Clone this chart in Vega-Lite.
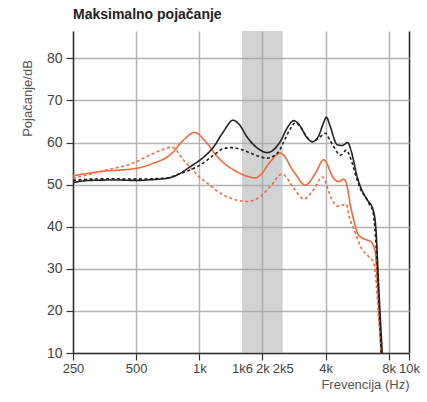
{
  "$schema": "https://vega.github.io/schema/vega-lite/v6.json",
  "width": 336,
  "height": 322,
  "autosize": "none",
  "padding": {"left": 73, "top": 31, "right": 18, "bottom": 49},
  "background": "white",
  "title": {"text": "Maksimalno pojačanje", "anchor": "start", "frame": "group", "fontSize": 14, "fontWeight": "bold", "font": "Liberation Sans", "color": "#222", "offset": 9},
  "config": {"view": {"stroke": null}, "font": "Liberation Sans Narrow, Liberation Sans, sans-serif"},
  "datasets": {
    "band": [{"a": 1600, "b": 2500}],
    "curves": [
      {"s": "od", "f": 250, "v": 51.5}, {"s": "od", "f": 337, "v": 53.1}, {"s": "od", "f": 504, "v": 55.5}, {"s": "od", "f": 584, "v": 57.1}, {"s": "od", "f": 676, "v": 58.4}, {"s": "od", "f": 742, "v": 58.9}, {"s": "od", "f": 842, "v": 55.8}, {"s": "od", "f": 940, "v": 53.3}, {"s": "od", "f": 1000, "v": 51.8}, {"s": "od", "f": 1130, "v": 49.8}, {"s": "od", "f": 1200, "v": 48.7}, {"s": "od", "f": 1407, "v": 46.8}, {"s": "od", "f": 1691, "v": 46.0}, {"s": "od", "f": 1818, "v": 46.3}, {"s": "od", "f": 1956, "v": 47.2}, {"s": "od", "f": 2184, "v": 49.6}, {"s": "od", "f": 2483, "v": 52.5}, {"s": "od", "f": 2821, "v": 49.2}, {"s": "od", "f": 3147, "v": 46.6}, {"s": "od", "f": 3513, "v": 48.8}, {"s": "od", "f": 3853, "v": 51.8}, {"s": "od", "f": 4300, "v": 46.4}, {"s": "od", "f": 4543, "v": 44.9}, {"s": "od", "f": 4885, "v": 45.2}, {"s": "od", "f": 5032, "v": 45.3}, {"s": "od", "f": 5162, "v": 42.8}, {"s": "od", "f": 5555, "v": 38.5}, {"s": "od", "f": 5868, "v": 35.3}, {"s": "od", "f": 6420, "v": 32.9}, {"s": "od", "f": 6793, "v": 31.4}, {"s": "od", "f": 6920, "v": 28.6}, {"s": "od", "f": 7175, "v": 18.0}, {"s": "od", "f": 7367, "v": 10.0},
      {"s": "o", "f": 250, "v": 52.1}, {"s": "o", "f": 337, "v": 53.1}, {"s": "o", "f": 504, "v": 53.9}, {"s": "o", "f": 606, "v": 55.1}, {"s": "o", "f": 728, "v": 57.1}, {"s": "o", "f": 842, "v": 60.6}, {"s": "o", "f": 948, "v": 62.4}, {"s": "o", "f": 1090, "v": 59.8}, {"s": "o", "f": 1216, "v": 56.7}, {"s": "o", "f": 1459, "v": 53.5}, {"s": "o", "f": 1753, "v": 51.8}, {"s": "o", "f": 1850, "v": 51.6}, {"s": "o", "f": 1956, "v": 52.3}, {"s": "o", "f": 2184, "v": 55.5}, {"s": "o", "f": 2437, "v": 57.5}, {"s": "o", "f": 2821, "v": 53.1}, {"s": "o", "f": 3207, "v": 49.9}, {"s": "o", "f": 3580, "v": 52.7}, {"s": "o", "f": 3921, "v": 55.9}, {"s": "o", "f": 4377, "v": 51.5}, {"s": "o", "f": 4624, "v": 50.7}, {"s": "o", "f": 4885, "v": 51.3}, {"s": "o", "f": 5050, "v": 50.0}, {"s": "o", "f": 5258, "v": 45.0}, {"s": "o", "f": 5450, "v": 41.6}, {"s": "o", "f": 5750, "v": 38.0}, {"s": "o", "f": 6250, "v": 36.9}, {"s": "o", "f": 6550, "v": 36.5}, {"s": "o", "f": 6793, "v": 35.3}, {"s": "o", "f": 6920, "v": 33.5}, {"s": "o", "f": 7175, "v": 20.5}, {"s": "o", "f": 7367, "v": 10.0},
      {"s": "kd", "f": 250, "v": 51.0}, {"s": "kd", "f": 300, "v": 51.3}, {"s": "kd", "f": 400, "v": 51.4}, {"s": "kd", "f": 500, "v": 51.3}, {"s": "kd", "f": 600, "v": 51.4}, {"s": "kd", "f": 702, "v": 51.6}, {"s": "kd", "f": 800, "v": 52.5}, {"s": "kd", "f": 907, "v": 53.5}, {"s": "kd", "f": 1012, "v": 54.7}, {"s": "kd", "f": 1172, "v": 57.0}, {"s": "kd", "f": 1308, "v": 58.6}, {"s": "kd", "f": 1434, "v": 58.8}, {"s": "kd", "f": 1550, "v": 58.5}, {"s": "kd", "f": 1753, "v": 57.5}, {"s": "kd", "f": 1956, "v": 56.6}, {"s": "kd", "f": 2106, "v": 56.3}, {"s": "kd", "f": 2264, "v": 56.8}, {"s": "kd", "f": 2437, "v": 58.5}, {"s": "kd", "f": 2528, "v": 60.2}, {"s": "kd", "f": 2700, "v": 63.0}, {"s": "kd", "f": 2874, "v": 64.7}, {"s": "kd", "f": 3050, "v": 63.5}, {"s": "kd", "f": 3300, "v": 61.0}, {"s": "kd", "f": 3453, "v": 60.2}, {"s": "kd", "f": 3700, "v": 61.0}, {"s": "kd", "f": 3995, "v": 62.2}, {"s": "kd", "f": 4200, "v": 60.5}, {"s": "kd", "f": 4377, "v": 59.0}, {"s": "kd", "f": 4711, "v": 57.0}, {"s": "kd", "f": 5032, "v": 58.2}, {"s": "kd", "f": 5200, "v": 57.0}, {"s": "kd", "f": 5660, "v": 51.1}, {"s": "kd", "f": 5868, "v": 49.0}, {"s": "kd", "f": 6300, "v": 46.5}, {"s": "kd", "f": 6550, "v": 44.8}, {"s": "kd", "f": 6700, "v": 44.0}, {"s": "kd", "f": 6868, "v": 40.0}, {"s": "kd", "f": 7098, "v": 28.2}, {"s": "kd", "f": 7367, "v": 10.0},
      {"s": "k", "f": 250, "v": 50.5}, {"s": "k", "f": 300, "v": 51.0}, {"s": "k", "f": 400, "v": 51.1}, {"s": "k", "f": 500, "v": 51.0}, {"s": "k", "f": 600, "v": 51.2}, {"s": "k", "f": 702, "v": 51.5}, {"s": "k", "f": 800, "v": 52.5}, {"s": "k", "f": 907, "v": 54.3}, {"s": "k", "f": 1012, "v": 55.9}, {"s": "k", "f": 1172, "v": 59.0}, {"s": "k", "f": 1300, "v": 62.5}, {"s": "k", "f": 1450, "v": 65.3}, {"s": "k", "f": 1550, "v": 64.3}, {"s": "k", "f": 1691, "v": 61.3}, {"s": "k", "f": 1956, "v": 58.2}, {"s": "k", "f": 2106, "v": 57.6}, {"s": "k", "f": 2250, "v": 58.2}, {"s": "k", "f": 2437, "v": 60.3}, {"s": "k", "f": 2650, "v": 63.8}, {"s": "k", "f": 2821, "v": 65.2}, {"s": "k", "f": 3000, "v": 64.2}, {"s": "k", "f": 3250, "v": 61.3}, {"s": "k", "f": 3453, "v": 60.2}, {"s": "k", "f": 3700, "v": 61.5}, {"s": "k", "f": 3900, "v": 64.5}, {"s": "k", "f": 4039, "v": 66.0}, {"s": "k", "f": 4200, "v": 64.0}, {"s": "k", "f": 4543, "v": 59.5}, {"s": "k", "f": 4800, "v": 59.3}, {"s": "k", "f": 5105, "v": 60.0}, {"s": "k", "f": 5300, "v": 58.0}, {"s": "k", "f": 5660, "v": 51.9}, {"s": "k", "f": 5868, "v": 49.5}, {"s": "k", "f": 6317, "v": 46.4}, {"s": "k", "f": 6700, "v": 44.4}, {"s": "k", "f": 6920, "v": 40.8}, {"s": "k", "f": 7175, "v": 25.5}, {"s": "k", "f": 7450, "v": 10.0}
    ]
  },
  "layer": [
    {
      "data": {"name": "band"},
      "mark": {"type": "rect", "color": "#a3a6aa", "opacity": 0.5},
      "encoding": {
        "x": {"field": "a", "type": "quantitative", "scale": {"type": "log", "domain": [250, 10000]}},
        "x2": {"field": "b"}
      }
    },
    {
      "data": {"name": "curves"},
      "mark": {"type": "line", "interpolate": "monotone", "strokeWidth": 1.6, "clip": true},
      "encoding": {
        "x": {"field": "f", "type": "quantitative",
          "scale": {"type": "log", "domain": [250, 10000], "nice": false},
          "axis": {
            "values": [250, 500, 1000, 1600, 2000, 2500, 4000, 8000, 10000],
            "labelExpr": "datum.value==250?'250':datum.value==500?'500':datum.value==1000?'1k':datum.value==1600?'1k6':datum.value==2000?'2k':datum.value==2500?'2k5':datum.value==4000?'4k':datum.value==8000?'8k':'10k'",
            "grid": true,
            "gridColor": {"condition": {"test": "datum.value==10000", "value": "#222"}, "value": "#b3b3b3"},
            "gridOpacity": {"condition": {"test": "datum.value==1600||datum.value==2500", "value": 0}, "value": 1},
            "gridWidth": 1.5,
            "tickOpacity": {"condition": {"test": "datum.value==1600||datum.value==2500", "value": 0}, "value": 1},
            "tickSize": 7, "tickColor": "#333", "tickWidth": 1.2,
            "domainColor": "#333", "domainWidth": 1.5,
            "labelPadding": 2, "labelFontSize": 13, "labelColor": "#444",
            "labelFlush": false, "labelOverlap": false,
            "title": "Frevencija (Hz)", "titleAnchor": "end", "titleFontWeight": "normal",
            "titleFontSize": 13, "titleColor": "#555", "titlePadding": 3
          }
        },
        "y": {"field": "v", "type": "quantitative",
          "scale": {"domain": [10, 86.5], "nice": false, "zero": false},
          "axis": {
            "values": [10, 20, 30, 40, 50, 60, 70, 80],
            "grid": true, "gridColor": "#b3b3b3", "gridWidth": 1.5,
            "tickSize": 7, "tickColor": "#333", "tickWidth": 1.2,
            "domainColor": "#333", "domainWidth": 1.5,
            "labelPadding": 4, "labelFontSize": 14, "labelColor": "#444",
            "title": "Pojačanje/dB", "titleFontWeight": "normal", "titleFontSize": 13, "titleColor": "#555",
            "titleAngle": -90, "titleX": -46, "titleY": 67, "titleAlign": "center", "titleBaseline": "middle"
          }
        },
        "color": {"field": "s", "type": "nominal", "legend": null,
          "scale": {"domain": ["od", "o", "kd", "k"], "range": ["#f06a3a", "#f06a3a", "#222222", "#222222"]}},
        "strokeDash": {"field": "s", "type": "nominal", "legend": null,
          "scale": {"domain": ["od", "o", "kd", "k"], "range": [[3, 2.5], [1, 0], [3, 2.5], [1, 0]]}},
        "detail": {"field": "s"}
      }
    }
  ]
}
